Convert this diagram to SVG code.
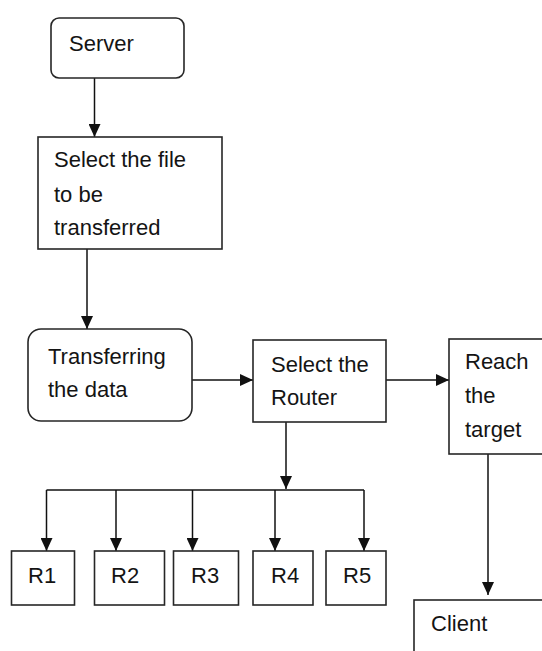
<svg xmlns="http://www.w3.org/2000/svg" width="542" height="651" viewBox="0 0 542 651">
  <style>
    .box { fill: #ffffff; stroke: #262626; stroke-width: 1.6; }
    .lbl { font-family: "Liberation Sans", Arial, sans-serif; font-size: 22px; fill: #141414; }
    .edge { fill: none; stroke: #111111; stroke-width: 1.5; }
    .arrow { marker-end: url(#head); }
  </style>
  <defs>
    <marker id="head" markerUnits="userSpaceOnUse" markerWidth="14" markerHeight="12" refX="13" refY="6" orient="auto">
      <path d="M0,0 L13,6 L0,12 Z" fill="#111111"/>
    </marker>
  </defs>
  <rect width="542" height="651" fill="#ffffff"/>

  <g id="connectors">
    <line class="edge arrow" x1="94.5" y1="78" x2="94.5" y2="137"/>
    <line class="edge arrow" x1="87" y1="249" x2="87" y2="329"/>
    <line class="edge arrow" x1="192" y1="380" x2="253" y2="380"/>
    <line class="edge arrow" x1="386" y1="380" x2="449" y2="380"/>
    <line class="edge arrow" x1="286" y1="422" x2="286" y2="489"/>
    <line class="edge" x1="46.5" y1="490" x2="364" y2="490"/>
    <line class="edge arrow" x1="46.5" y1="490" x2="46.5" y2="551"/>
    <line class="edge arrow" x1="116" y1="490" x2="116" y2="551"/>
    <line class="edge arrow" x1="192.5" y1="490" x2="192.5" y2="551"/>
    <line class="edge arrow" x1="275" y1="490" x2="275" y2="551"/>
    <line class="edge arrow" x1="364" y1="490" x2="364" y2="551"/>
    <line class="edge arrow" x1="488" y1="454" x2="488" y2="595"/>
  </g>

  <g id="server">
    <rect class="box" x="51" y="18" width="133" height="60" rx="8"/>
    <text class="lbl" x="69" y="51">Server</text>
  </g>

  <g id="select-file">
    <rect class="box" x="38" y="137" width="184" height="112"/>
    <text class="lbl" x="54" y="167">Select the file</text>
    <text class="lbl" x="54" y="202">to be</text>
    <text class="lbl" x="54" y="235">transferred</text>
  </g>

  <g id="transferring">
    <rect class="box" x="28" y="329" width="164" height="92" rx="13"/>
    <text class="lbl" x="48" y="364">Transferring</text>
    <text class="lbl" x="48" y="397">the data</text>
  </g>

  <g id="select-router">
    <rect class="box" x="253" y="340" width="133" height="82"/>
    <text class="lbl" x="271" y="372">Select the</text>
    <text class="lbl" x="271" y="405">Router</text>
  </g>

  <g id="reach-target">
    <rect class="box" x="449" y="339" width="110" height="115"/>
    <text class="lbl" x="465" y="369">Reach</text>
    <text class="lbl" x="465" y="403">the</text>
    <text class="lbl" x="465" y="437">target</text>
  </g>

  <g id="r1">
    <rect class="box" x="11.5" y="551" width="63" height="54"/>
    <text class="lbl" x="28" y="583">R1</text>
  </g>
  <g id="r2">
    <rect class="box" x="94.5" y="551" width="70" height="54"/>
    <text class="lbl" x="111" y="583">R2</text>
  </g>
  <g id="r3">
    <rect class="box" x="173.5" y="551" width="65" height="54"/>
    <text class="lbl" x="191" y="583">R3</text>
  </g>
  <g id="r4">
    <rect class="box" x="253" y="551" width="60" height="54"/>
    <text class="lbl" x="271" y="583">R4</text>
  </g>
  <g id="r5">
    <rect class="box" x="326" y="551" width="60" height="54"/>
    <text class="lbl" x="343" y="583">R5</text>
  </g>

  <g id="client">
    <rect class="box" x="414" y="600" width="150" height="70"/>
    <text class="lbl" x="431" y="631">Client</text>
  </g>
</svg>
